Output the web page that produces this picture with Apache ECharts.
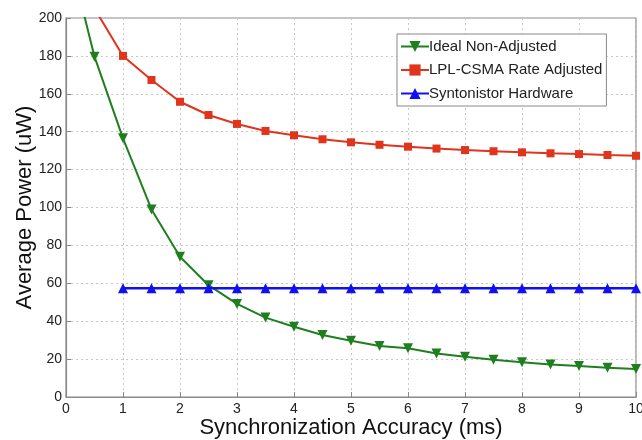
<!DOCTYPE html>
<html>
<head>
<meta charset="utf-8">
<script src="https://cdn.jsdelivr.net/npm/echarts@6/dist/echarts.min.js"></script>
<style>
  html, body { margin: 0; padding: 0; background: #fff; }
  #chart { width: 642px; height: 440px; }
</style>
</head>
<body>
<div id="chart"></div>
<script>
// x values (ms)
const idealX = [0, 0.5, 1, 1.5, 2, 2.5, 3, 3.5, 4, 4.5, 5, 5.5, 6, 6.5, 7, 7.5, 8, 8.5, 9, 9.5, 10];
const idealY = [240, 179.6, 136.5, 99, 74, 59, 49.1, 41.9, 37.1, 32.7, 29.7, 26.9, 25.7, 23, 21.3, 19.7, 18.3, 17.2, 16.4, 15.5, 14.8];

const lplX = [0.5, 1, 1.5, 2, 2.5, 3, 3.5, 4, 4.5, 5, 5.5, 6, 6.5, 7, 7.5, 8, 8.5, 9, 9.5, 10];
const lplY = [205, 180, 167.3, 155.8, 148.8, 144.1, 140.4, 138.1, 136, 134.4, 133.1, 132.1, 131.1, 130.3, 129.7, 129.1, 128.6, 128.2, 127.7, 127.3];

const syntX = [1, 1.5, 2, 2.5, 3, 3.5, 4, 4.5, 5, 5.5, 6, 6.5, 7, 7.5, 8, 8.5, 9, 9.5, 10];
const syntY = [57.4, 57.4, 57.4, 57.4, 57.4, 57.4, 57.4, 57.4, 57.4, 57.4, 57.4, 57.4, 57.4, 57.4, 57.4, 57.4, 57.4, 57.4, 57.4];

const seriesNames = ['Ideal Non-Adjusted', 'LPL-CSMA Rate Adjusted', 'Syntonistor Hardware'];

const pair = (xs, ys) => xs.map((x, i) => {
  // points above the visible range carry no marker
  if (ys[i] > 200) {
    return { value: [x, ys[i]], symbol: 'none' };
  }
  return [x, ys[i]];
});

const font = 'Liberation Sans, Arial, sans-serif';

const chart = echarts.init(document.getElementById('chart'), null, { renderer: 'canvas' });

const axisCommon = {
  axisLine: { lineStyle: { color: '#8a8a8a', width: 1.2 } },
  axisTick: { inside: true, length: 5, lineStyle: { color: '#8a8a8a' } },
  axisLabel: { color: '#222', fontSize: 14, fontFamily: font },
  splitLine: { show: true, lineStyle: { color: '#c8c8c8', type: [2, 3], width: 1 } },
  nameLocation: 'middle',
  nameMoveOverlap: false,
  nameTextStyle: { color: '#111', fontSize: 22, fontFamily: font }
};

chart.setOption({
  animation: false,
  backgroundColor: '#fff',
  grid: {
    left: 66,
    right: 6,
    top: 18,
    bottom: 43,
    outerBoundsMode: 'none',
    containLabel: false,
    show: true,
    borderColor: '#8a8a8a',
    borderWidth: 1.2
  },
  legend: {
    orient: 'vertical',
    left: 397,
    top: 34,
    itemWidth: 28,
    itemHeight: 14,
    itemGap: 8.5,
    padding: [5, 4, 5, 3],
    backgroundColor: '#fff',
    borderColor: '#888',
    borderWidth: 1,
    borderRadius: 0,
    textStyle: { color: '#222', fontSize: 15, fontFamily: font, padding: [0, 0, 0, -5] },
    data: seriesNames
  },
  xAxis: Object.assign({}, axisCommon, {
    type: 'value',
    min: 0,
    max: 10,
    interval: 1,
    name: 'Synchronization Accuracy (ms)',
    nameGap: 20,
    axisLabel: Object.assign({}, axisCommon.axisLabel, { margin: 5 })
  }),
  yAxis: Object.assign({}, axisCommon, {
    type: 'value',
    min: 0,
    max: 200,
    interval: 20,
    name: 'Average Power (uW)',
    nameGap: 30,
    axisLabel: Object.assign({}, axisCommon.axisLabel, { margin: 4 })
  }),
  series: [
    {
      name: seriesNames[0],
      type: 'line',
      data: pair(idealX, idealY),
      symbol: 'triangle',
      symbolRotate: 180,
      symbolSize: 10,
      clip: true,
      color: '#1f7f1f',
      lineStyle: { width: 2, color: '#1f7f1f' },
      itemStyle: { color: '#1f7f1f' }
    },
    {
      name: seriesNames[1],
      type: 'line',
      data: pair(lplX, lplY),
      symbol: 'rect',
      symbolSize: 8,
      clip: true,
      color: '#e0341c',
      lineStyle: { width: 2, color: '#e0341c' },
      itemStyle: { color: '#e0341c' }
    },
    {
      name: seriesNames[2],
      type: 'line',
      data: pair(syntX, syntY),
      symbol: 'triangle',
      symbolSize: 10,
      clip: true,
      color: '#1010f0',
      lineStyle: { width: 2.5, color: '#1010f0' },
      itemStyle: { color: '#1010f0' }
    }
  ]
});
</script>
</body>
</html>
